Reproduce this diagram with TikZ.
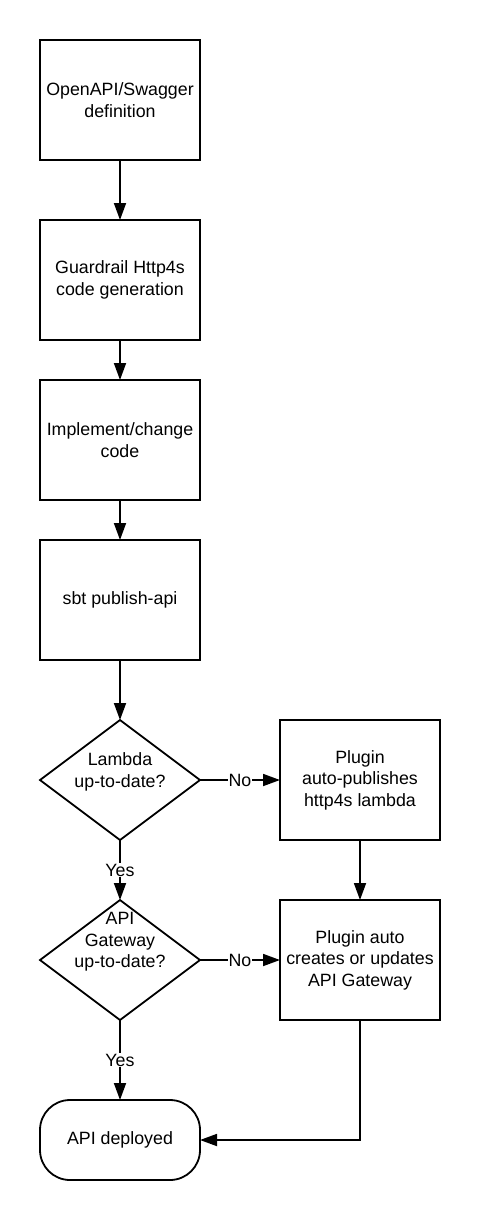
\documentclass[tikz,border=0pt]{standalone}
\usepackage{fontspec}
\setmainfont{Liberation Sans}
\usetikzlibrary{positioning}
\usetikzlibrary{shapes}
\usetikzlibrary{arrows.meta}

\begin{document}
\begin{tikzpicture}[
font=\fontsize{17.8}{21.5}\selectfont,
every edge/.style={draw,line width=1.8pt,-{Triangle[length=17pt,width=12pt]}},
node distance=60pt
]

\tikzstyle{p} = [draw, line width=1.8pt, shape=rectangle, minimum width=160pt, minimum height=120pt, align=center, inner sep=0pt, outer sep=0pt]
\tikzstyle{d} = [draw, line width=1.8pt, shape=diamond, minimum width=160pt, minimum height=120pt, inner sep=0pt, outer sep=0pt]
\tikzstyle{t} = [draw, line width=1.8pt, shape=rectangle, rounded corners=30pt, minimum width=160pt, minimum height=80pt, align=center, outer sep=0pt]
\tikzstyle{lbl} = [fill=white, inner sep=1pt]
\tikzstyle{txt} = [align=center]

\useasboundingbox (0pt,0pt) rectangle (480pt,-1220pt);

\node[p] (def) at (120pt,-100pt) {OpenAPI/Swagger\\definition};
\node[p, below=of def] (gen) {Guardrail Http4s\\code generation};
\node[p, below=40pt of gen] (impl) {Implement/change\\code};
\node[p, below=40pt of impl] (pub) {sbt publish-api};
\node[d, below=of pub] (lam) {};
\node[txt, yshift=8pt] (lamtxt) at (lam) {Lambda\\up-to-date?};
\node[p, right=80pt of lam] (plam) {Plugin\\auto-publishes\\http4s lambda};
\node[d, below=of lam] (gw) {};
\node[txt, yshift=18pt] (gwtxt) at (gw) {API\\Gateway\\up-to-date?};
\node[p, below=of plam] (pgw) {Plugin auto\\creates or updates\\API Gateway};
\node[t, below=80pt of gw] (done) {API deployed};

\draw (def) edge (gen)
      (gen) edge (impl)
      (impl) edge (pub)
      (pub) edge (lam)
      (plam) edge (pgw);
% yes / no branches
\draw (lam) edge node[lbl] {No} (plam)
      (lam) edge node[lbl] {Yes} (gw)
      (gw) edge node[lbl] {No} (pgw)
      (gw) edge node[lbl] {Yes} (done);
\draw[line width=1.8pt,-{Triangle[length=17pt,width=12pt]}] (pgw.south) |- (done.east);
\end{tikzpicture}
\end{document}
